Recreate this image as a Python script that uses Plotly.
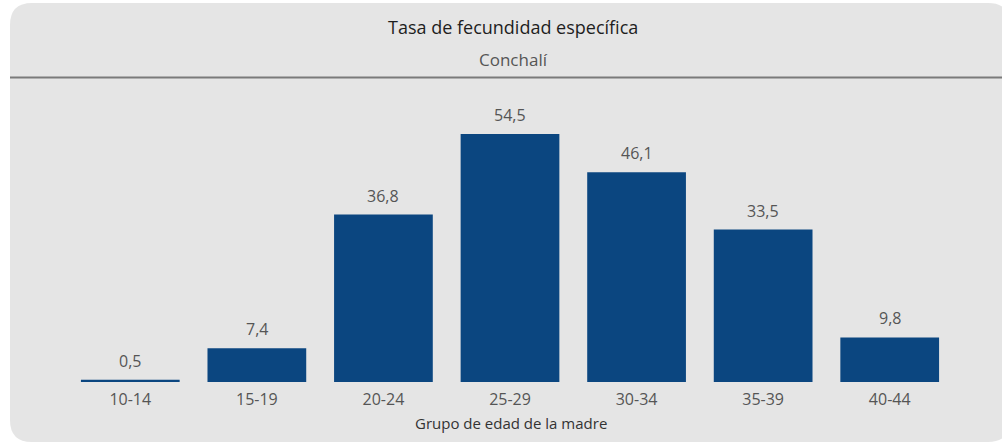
import plotly.graph_objects as go

# --- Daten ---
grupos = ["10-14", "15-19", "20-24", "25-29", "30-34", "35-39", "40-44"]
tasas = [0.5, 7.4, 36.8, 54.5, 46.1, 33.5, 9.8]

titulo = "Tasa de fecundidad específica"
subtitulo = "Conchalí"
eje_x = "Grupo de edad de la madre"

W, H = 1002, 445
FONT = "Open Sans, DejaVu Sans, sans-serif"
BAR_COLOR = "#0b4680"
CARD = "#e5e5e5"


def px(x):
    return x / W


def py(y):
    return 1 - y / H


fig = go.Figure()
fig.add_trace(
    go.Bar(
        x=grupos,
        y=tasas,
        marker=dict(color=BAR_COLOR, line=dict(width=0)),
        hovertemplate="%{x}: %{y:.1f}<extra></extra>",
    )
)

# Wertelabels ueber den Balken
for g, v in zip(grupos, tasas):
    fig.add_annotation(
        x=g,
        y=v,
        text=f"{v:.1f}".replace(".", ","),
        showarrow=False,
        yanchor="bottom",
        yshift=6,
        font=dict(family=FONT, size=16, color="#555555"),
    )

# Karte mit abgerundeten Ecken
r = 22
x0, x1, y0, y1 = 10, 1010, 3, 442
path = (
    f"M {px(x0 + r)} {py(y0)} L {px(x1 - r)} {py(y0)} "
    f"Q {px(x1)} {py(y0)} {px(x1)} {py(y0 + r)} "
    f"L {px(x1)} {py(y1 - r)} Q {px(x1)} {py(y1)} {px(x1 - r)} {py(y1)} "
    f"L {px(x0 + r)} {py(y1)} Q {px(x0)} {py(y1)} {px(x0)} {py(y1 - r)} "
    f"L {px(x0)} {py(y0 + r)} Q {px(x0)} {py(y0)} {px(x0 + r)} {py(y0)} Z"
)
fig.add_shape(
    type="path",
    path=path,
    xref="paper",
    yref="paper",
    fillcolor=CARD,
    line=dict(width=0),
    layer="below",
)
fig.add_shape(
    type="line",
    xref="paper",
    yref="paper",
    x0=px(10),
    x1=1,
    y0=py(77.5),
    y1=py(77.5),
    line=dict(color="#7a7a7a", width=2),
)

fig.add_annotation(
    text=titulo, xref="paper", yref="paper", x=px(513), y=py(27), yanchor="middle",
    showarrow=False, font=dict(family=FONT, size=18, color="#1e1e1e"),
)
fig.add_annotation(
    text=subtitulo, xref="paper", yref="paper", x=px(513), y=py(59), yanchor="middle",
    showarrow=False, font=dict(family=FONT, size=17, color="#555555"),
)
fig.add_annotation(
    text=eje_x, xref="paper", yref="paper", x=px(511), y=py(423), yanchor="middle",
    showarrow=False, font=dict(family=FONT, size=15, color="#333333"),
)

fig.update_layout(
    width=W,
    height=H,
    margin=dict(l=0, r=0, t=0, b=0),
    paper_bgcolor="white",
    plot_bgcolor="rgba(0,0,0,0)",
    showlegend=False,
    bargap=0.22,
    xaxis=dict(
        domain=[px(67), px(953)],
        showgrid=False,
        zeroline=False,
        showline=False,
        ticks="",
        ticklabelstandoff=6,
        tickfont=dict(family=FONT, size=16, color="#555555"),
    ),
    yaxis=dict(
        domain=[py(382), py(109)],
        range=[0, 60],
        visible=False,
    ),
)

fig.write_html(
    "out.html",
    config={"displayModeBar": False},
    post_script="document.body.style.margin='0';",
)
